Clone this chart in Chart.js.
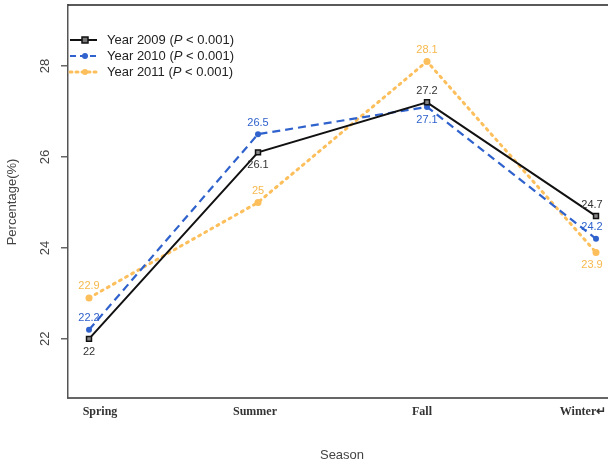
<!DOCTYPE html>
<html>
<head>
<meta charset="utf-8">
<script src="https://cdn.jsdelivr.net/npm/chart.js@4"></script>
<style>
  html, body { margin: 0; padding: 0; background: #ffffff; }
  #wrap { width: 608px; height: 463px; position: relative; }
</style>
</head>
<body>
<div id="wrap"><canvas id="chart"></canvas></div>
<script>
// 数据
const seasons = ['Spring', 'Summer', 'Fall', 'Winter\u21B5'];
const y2009 = [22, 26.1, 27.2, 24.7];
const y2010 = [22.2, 26.5, 27.1, 24.2];
const y2011 = [22.9, 25, 28.1, 23.9];
const yTicks = [22, 24, 26, 28];
const legendNames = ['Year 2009', 'Year 2010', 'Year 2011'];

// 数值标签放在点的上方(-1)还是下方(1)
const side2009 = [1, 1, -1, -1];
const side2010 = [-1, -1, 1, -1];
const side2011 = [-1, -1, -1, 1];
// 季节文字相对刻度的水平偏移（原图里文字没有严格居中）
const seasonShift = [11, -3, -5, -13];

const C2009 = '#111111';
const C2010 = '#2f62cc';
const C2011 = '#fcbf5c';

const toPts = arr => arr.map((v, i) => ({ x: i, y: v }));

/** 旋转的 y 轴刻度、标题、图例、数值标签 */
const decorPlugin = {
  id: 'decor',
  afterDraw(chart) {
    const ctx = chart.ctx;
    const area = chart.chartArea;
    const ys = chart.scales.y;
    const xs = chart.scales.x;
    ctx.save();

    // 顶部边框
    ctx.strokeStyle = '#222';
    ctx.lineWidth = 1.5;
    ctx.beginPath();
    ctx.moveTo(area.left, area.top);
    ctx.lineTo(area.right, area.top);
    ctx.stroke();

    // x 轴季节文字
    ctx.fillStyle = '#333';
    ctx.font = 'bold 12px "Liberation Serif", "Times New Roman", serif';
    ctx.textAlign = 'center';
    ctx.textBaseline = 'middle';
    seasons.forEach((s, i) => {
      ctx.fillText(s, xs.getPixelForValue(i) + seasonShift[i], area.bottom + 14);
    });

    // y 轴刻度文字（竖排）
    ctx.fillStyle = '#444';
    ctx.font = '13px "Liberation Sans", Arial, sans-serif';
    yTicks.forEach(t => {
      const py = ys.getPixelForValue(t);
      ctx.save();
      ctx.translate(45, py);
      ctx.rotate(-Math.PI / 2);
      ctx.fillText(String(t), 0, 0);
      ctx.restore();
    });

    // y 轴标题
    ctx.save();
    ctx.translate(12, 202);
    ctx.rotate(-Math.PI / 2);
    ctx.fillText('Percentage(%)', 0, 0);
    ctx.restore();

    // x 轴标题
    ctx.fillText('Season', 342, 455);

    // 数值标签
    ctx.font = '11px "Liberation Sans", Arial, sans-serif';
    const groups = [
      { data: y2009, side: side2009, color: '#333333' },
      { data: y2010, side: side2010, color: C2010 },
      { data: y2011, side: side2011, color: '#f6b84c' }
    ];
    groups.forEach(g => {
      ctx.fillStyle = g.color;
      g.data.forEach((v, i) => {
        const px = xs.getPixelForValue(i);
        const py = ys.getPixelForValue(v);
        const dx = i === 3 ? -4 : 0;
        ctx.fillText(String(v), px + dx, py + (g.side[i] > 0 ? 13 : -11.5));
      });
    });

    // 图例
    const items = [
      { color: C2009, dash: [], width: 2, marker: 'rect' },
      { color: C2010, dash: [6, 4], width: 2, marker: 'dot' },
      { color: C2011, dash: [2, 4], width: 3, marker: 'dot' }
    ];
    ctx.textAlign = 'left';
    items.forEach((it, k) => {
      const ly = 40 + k * 16;
      ctx.strokeStyle = it.color;
      ctx.lineWidth = it.width;
      ctx.setLineDash(it.dash);
      ctx.lineCap = k === 2 ? 'round' : 'butt';
      ctx.beginPath();
      ctx.moveTo(70, ly);
      ctx.lineTo(97, ly);
      ctx.stroke();
      ctx.setLineDash([]);
      if (it.marker === 'rect') {
        ctx.fillStyle = '#777';
        ctx.fillRect(82, ly - 3, 6, 6);
        ctx.lineWidth = 1.5;
        ctx.strokeRect(82, ly - 3, 6, 6);
      } else {
        ctx.fillStyle = it.color;
        ctx.beginPath();
        ctx.arc(85, ly, 3, 0, Math.PI * 2);
        ctx.fill();
      }
      ctx.fillStyle = '#222';
      ctx.font = '13px "Liberation Sans", Arial, sans-serif';
      let tx = 107;
      const a = legendNames[k] + ' (';
      ctx.fillText(a, tx, ly);
      tx += ctx.measureText(a).width;
      ctx.font = 'italic 13px "Liberation Sans", Arial, sans-serif';
      ctx.fillText('P', tx, ly);
      tx += ctx.measureText('P').width;
      ctx.font = '13px "Liberation Sans", Arial, sans-serif';
      ctx.fillText(' < 0.001)', tx, ly);
    });

    ctx.restore();
  }
};

new Chart(document.getElementById('chart'), {
  type: 'line',
  data: {
    datasets: [
      {
        label: legendNames[0],
        data: toPts(y2009),
        borderColor: C2009,
        borderWidth: 2,
        pointStyle: 'rect',
        pointRadius: 3.5,
        pointBackgroundColor: '#888888',
        pointBorderColor: '#111111',
        pointBorderWidth: 1.5,
        tension: 0
      },
      {
        label: legendNames[1],
        data: toPts(y2010),
        borderColor: C2010,
        borderWidth: 2.2,
        borderDash: [8, 5],
        pointStyle: 'circle',
        pointRadius: 3,
        pointBackgroundColor: C2010,
        pointBorderColor: C2010,
        pointBorderWidth: 0,
        tension: 0
      },
      {
        label: legendNames[2],
        data: toPts(y2011),
        borderColor: C2011,
        borderWidth: 3,
        borderDash: [2, 5],
        borderCapStyle: 'round',
        pointStyle: 'circle',
        pointRadius: 3.5,
        pointBackgroundColor: C2011,
        pointBorderColor: C2011,
        pointBorderWidth: 0,
        tension: 0
      }
    ]
  },
  options: {
    responsive: true,
    maintainAspectRatio: false,
    animation: false,
    layout: { autoPadding: false, padding: { top: 5, right: 0, bottom: 0, left: 0 } },
    plugins: {
      legend: { display: false },
      tooltip: { enabled: false }
    },
    scales: {
      x: {
        type: 'linear',
        min: -0.1243,
        max: 3.071,
        afterBuildTicks: s => { s.ticks = [0, 1, 2, 3].map(v => ({ value: v })); },
        afterFit: s => {
          s.height = 65;
          s.paddingLeft = 0; s.paddingRight = 0;
        },
        grid: { display: false, drawTicks: false },
        border: { display: true, color: '#666', width: 2 },
        ticks: { display: false }
      },
      y: {
        min: 20.7,
        max: 29.34,
        afterBuildTicks: s => { s.ticks = yTicks.map(v => ({ value: v })); },
        afterFit: s => {
          s.width = 68;
          s.paddingTop = 0; s.paddingBottom = 0;
        },
        grid: { display: true, drawOnChartArea: false, drawTicks: true, tickLength: 7, color: '#666', lineWidth: 1.5 },
        border: { display: true, color: '#555', width: 1.5 },
        ticks: { color: 'rgba(0,0,0,0)', callback: () => '' }
      }
    }
  },
  plugins: [decorPlugin]
});
</script>
</body>
</html>
